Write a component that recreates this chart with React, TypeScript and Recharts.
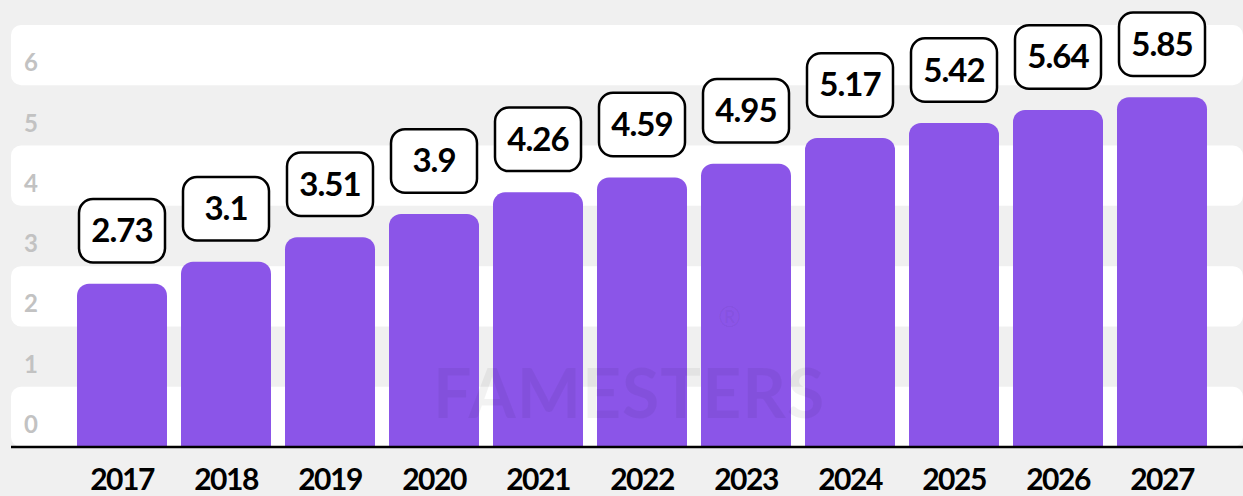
import { BarChart, Bar, XAxis, YAxis, ReferenceArea, LabelList } from "recharts"

const years = ["2017", "2018", "2019", "2020", "2021", "2022", "2023", "2024", "2025", "2026", "2027"]
// printed values in the boxes
const labels = [2.73, 3.1, 3.51, 3.9, 4.26, 4.59, 4.95, 5.17, 5.42, 5.64, 5.85]
// bar heights as drawn (2022 and 2023 sit lower than their labels in the source)
const barValues = [2.73, 3.1, 3.51, 3.9, 4.26, 4.51, 4.74, 5.17, 5.42, 5.64, 5.85]
const yTicks = [0, 1, 2, 3, 4, 5, 6]
const whiteBands = [
  [0, 1],
  [2, 3],
  [4, 5],
  [6, 7],
]

const data = years.map((year, i) => ({ year, value: barValues[i], label: labels[i] }))

const FONT = "Lato, 'Open Sans', sans-serif"

const YTick = ({ y, payload }: any) => (
  <text x={31} y={y - 14} textAnchor="middle" fill="#c2c2c2" fontSize={24} fontWeight={700} fontFamily={FONT}>
    {payload.value}
  </text>
)

const XTick = ({ x, payload }: any) => (
  <text x={x} y={490} textAnchor="middle" fill="#000" fontSize={30} fontWeight={700} fontFamily={FONT} letterSpacing={-1.5}>
    {payload.value}
  </text>
)

const ValueBox = ({ x, y, width, value }: any) => {
  const cx = x + width / 2
  return (
    <g>
      <rect x={cx - 43} y={y - 84.75} width={86} height={63.5} rx={14} fill="#fff" stroke="#000" strokeWidth={2.5} />
      <text x={cx} y={y - 41.5} textAnchor="middle" fill="#000" fontSize={33} fontWeight={700} fontFamily={FONT} letterSpacing={-1}>
        {value}
      </text>
    </g>
  )
}

export default function App() {
  return (
    <div style={{ position: "absolute", left: 0, top: 0, width: 1243, height: 496, background: "#f0f0f0", overflow: "hidden" }}>
      <BarChart
        width={1243}
        height={496}
        data={data}
        margin={{ top: 25, right: 0, bottom: 0, left: 10 }}
        barCategoryGap={7}
      >
        <XAxis
          dataKey="year"
          height={49}
          padding={{ left: 59, right: 29 }}
          tickLine={false}
          axisLine={{ stroke: "#000", strokeWidth: 2.5 }}
          tick={<XTick />}
          interval={0}
        />
        {/* unpadded helper axis so the stripes run edge to edge */}
        <XAxis xAxisId="full" dataKey="year" hide height={0} />
        <YAxis
          width={1}
          type="number"
          domain={[0, 7]}
          allowDataOverflow
          ticks={yTicks}
          axisLine={false}
          tickLine={false}
          tick={<YTick />}
        />
        <YAxis yAxisId="bars" type="number" hide domain={[0, 7.06]} allowDataOverflow />
        {whiteBands.map(([a, b]) => (
          <ReferenceArea
            key={a}
            xAxisId="full"
            x1={years[0]}
            x2={years[years.length - 1]}
            y1={a}
            y2={b}
            fill="#fff"
            fillOpacity={1}
            stroke="none"
            radius={10}
            ifOverflow="visible"
          />
        ))}
        <Bar yAxisId="bars" dataKey="value" fill="#8b55e8" radius={[12, 12, 0, 0]} isAnimationActive={false}>
          <LabelList dataKey="label" content={<ValueBox />} />
        </Bar>
      </BarChart>
      <div
        style={{
          position: "absolute",
          left: 433,
          top: 358,
          fontFamily: FONT,
          fontWeight: 700,
          fontSize: 68,
          color: "rgba(0,0,0,0.05)",
          letterSpacing: 1,
          pointerEvents: "none",
          lineHeight: 1,
        }}
      >
        FAMESTERS
      </div>
      <div
        style={{
          position: "absolute",
          left: 718,
          top: 302,
          fontFamily: FONT,
          fontSize: 28,
          color: "rgba(0,0,0,0.05)",
          pointerEvents: "none",
          lineHeight: 1,
        }}
      >
        ®
      </div>
    </div>
  )
}
